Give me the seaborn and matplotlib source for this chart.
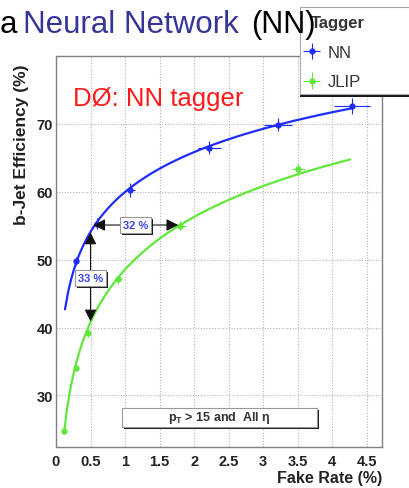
import numpy as np
import pandas as pd
import matplotlib
matplotlib.use("Agg")
import matplotlib.pyplot as plt
from matplotlib import patheffects
from matplotlib.patches import Rectangle
from matplotlib.ticker import MultipleLocator, FuncFormatter
import seaborn as sns

# b-tagging performance: efficiency vs light-jet fake rate
nn_rate = [0.29, 0.59, 1.07, 2.22, 3.21, 4.29]
nn_eff = [49.8, 55.3, 60.3, 66.5, 69.9, 72.6]
nn_rate_err = [0.02, 0.04, 0.07, 0.17, 0.20, 0.26]
nn_eff_err = [0.6, 0.8, 1.0, 1.0, 1.0, 1.2]

jlip_rate = [0.11, 0.29, 0.46, 0.90, 1.80, 3.51]
jlip_eff = [24.8, 34.1, 39.2, 47.1, 55.0, 63.3]
jlip_rate_err = [0.01, 0.02, 0.03, 0.05, 0.08, 0.10]
jlip_eff_err = [0.4, 0.5, 0.6, 0.7, 0.7, 0.8]

# fit ranges of the log curves
nn_fit_range = [0.13, 4.30]
jlip_fit_range = [0.115, 4.26]

# gain annotations: same efficiency (55 %) and same fake rate (0.5 %)
eff_gain_label = "32 %"
eff_gain_ends = [0.54, 1.77]
eff_gain_level = 55.1
rate_gain_label = "33 %"
rate_gain_ends = [54.0, 40.9]
rate_gain_level = 0.50

x_ticks = [0, 0.5, 1, 1.5, 2, 2.5, 3, 3.5, 4, 4.5]
y_ticks = [30, 40, 50, 60, 70]

NN_COLOR = "#1e2cff"
JLIP_COLOR = "#5fe83a"
FRAME = "#808080"
FONT = "Liberation Sans"

sns.set_theme(style="white")
plt.rcParams["font.family"] = [FONT, "DejaVu Sans"]

W, H = 410, 489
fig = plt.figure(figsize=(W / 100, H / 100), dpi=100)
ax = fig.add_axes([56 / W, 1 - 448 / H, (382 - 56) / W, (448 - 57) / H])

df_nn = pd.DataFrame({"rate": nn_rate, "eff": nn_eff})
df_jl = pd.DataFrame({"rate": jlip_rate, "eff": jlip_eff})

# fitted curves: efficiency linear in log(fake rate)
ax.set_xlim(*nn_fit_range)
sns.regplot(data=df_nn, x="rate", y="eff", logx=True, ci=None, scatter=False,
            truncate=False, ax=ax, line_kws=dict(color=NN_COLOR, lw=1.6))
ax.set_xlim(*jlip_fit_range)
sns.regplot(data=df_jl, x="rate", y="eff", logx=True, ci=None, scatter=False,
            truncate=False, ax=ax, line_kws=dict(color=JLIP_COLOR, lw=1.6))

# measured points with errors
h_nn = ax.errorbar(nn_rate, nn_eff, xerr=nn_rate_err, yerr=nn_eff_err, fmt="o",
                   ms=3.5, color=NN_COLOR, elinewidth=0.8, capsize=0, label="NN",
                   zorder=4)
h_jl = ax.errorbar(jlip_rate, jlip_eff, xerr=jlip_rate_err, yerr=jlip_eff_err,
                   fmt="o", ms=3.5, color=JLIP_COLOR, elinewidth=0.8, capsize=0,
                   label="JLIP", zorder=4)

ax.set_xlim(0, 4.72)
ax.set_ylim(22.4, 80)

# axes styling
for s in ax.spines.values():
    s.set_color(FRAME)
    s.set_linewidth(1.0)
ax.set_xticks(x_ticks)
ax.xaxis.set_minor_locator(MultipleLocator(0.1))
ax.set_yticks(y_ticks)
ax.yaxis.set_minor_locator(MultipleLocator(2))
ax.xaxis.set_major_formatter(FuncFormatter(lambda v, p: f"{v:g}"))
ax.tick_params(axis="both", which="both", direction="in", color=FRAME,
               labelcolor="#222222", top=False, right=False)
ax.tick_params(axis="both", which="major", length=8, width=1.0, labelsize=10.5)
ax.tick_params(axis="both", which="minor", length=4, width=0.8)
ax.tick_params(axis="x", which="major", pad=5)
ax.tick_params(axis="y", which="major", pad=2)
for lab in ax.get_xticklabels() + ax.get_yticklabels():
    lab.set_fontweight("bold")
ax.grid(True, which="major", color="#b5b5b5", linestyle=(0, (1, 1.5)), lw=0.8)
ax.set_axisbelow(True)

ax.set_xlabel("")
ax.set_ylabel("")
fig.text(382 / W, 1 - 479 / H, "Fake Rate (%)", ha="right", va="center",
         fontsize=11.5, fontweight="bold", color="#222222")
fig.text(22 / W, 1 - 145 / H, "b-Jet Efficiency (%)", rotation=90, ha="center",
         va="center", fontsize=12.5, fontweight="bold", color="#222222")

# gain arrows
arrow_kw = dict(arrowstyle="<|-|>,head_length=0.6,head_width=0.3",
                color="#111111", lw=0.8, shrinkA=0, shrinkB=0)
ax.annotate("", xy=(eff_gain_ends[0], eff_gain_level),
            xytext=(eff_gain_ends[1], eff_gain_level), arrowprops=arrow_kw,
            zorder=5)
ax.annotate("", xy=(rate_gain_level, rate_gain_ends[0]),
            xytext=(rate_gain_level, rate_gain_ends[1]), arrowprops=arrow_kw,
            zorder=5)

shadow = [patheffects.SimplePatchShadow(offset=(1.5, -1.5),
                                        shadow_rgbFace="black", alpha=0.9),
          patheffects.Normal()]
for label, pos in [(eff_gain_label, (1.155, 55.1)),
                   (rate_gain_label, (0.495, 47.3))]:
    t = ax.text(*pos, label, ha="center", va="center", fontsize=8,
                fontweight="bold", color="#3b45e0", zorder=6,
                bbox=dict(boxstyle="square,pad=0.25", fc="white", ec="#999999",
                          lw=0.8))
    t.get_bbox_patch().set_path_effects(shadow)

# selection box
sel = Rectangle((0.96, 25.3), 2.82, 2.8, fc="white", ec="#999999", lw=0.8,
                zorder=5)
sel.set_path_effects(shadow)
ax.add_patch(sel)
ax.text(2.37, 26.75, r"p$_\mathregular{T}$ > 15 and  All η", ha="center",
        va="center", fontsize=9, fontweight="bold", color="#333333", zorder=6)

# experiment label
fig.text(73 / W, 1 - 106 / H, "DØ: NN tagger", color="#ff1a1a", fontsize=18.5,
         va="baseline", ha="left")

# legend panel
leg_box = Rectangle((300 / W, 1 - 95 / H), 115 / W, 87 / H,
                    transform=fig.transFigure, fc="white", ec="#aaaaaa", lw=0.8,
                    zorder=5)
leg_box.set_path_effects([patheffects.SimplePatchShadow(offset=(0, -2),
                          shadow_rgbFace="black", alpha=0.9),
                          patheffects.Normal()])
fig.patches.append(leg_box)
leg = fig.legend(handles=[h_nn, h_jl], labels=["NN", "JLIP"], title="Tagger",
                 loc="upper left", bbox_to_anchor=(301 / W, 1 - 16 / H),
                 frameon=False, fontsize=12, title_fontsize=12,
                 alignment="left", handlelength=1.3, handletextpad=0.3,
                 labelspacing=0.88, borderpad=0, borderaxespad=0)
leg.set_zorder(6)
leg.get_title().set_fontweight("bold")
leg.get_title().set_color("#333333")
leg.get_title().set_position((10, 0))
for t in leg.get_texts():
    t.set_color("#333333")

# slide heading text
base = 1 - 33 / H
fig.text(0, base, "a", fontsize=22.5, va="baseline", color="black", zorder=10)
fig.text(23 / W, base, "Neural Network", fontsize=22.5, va="baseline",
         color="#353597", zorder=10)
fig.text(251 / W, base, "(NN)", fontsize=22, va="baseline", color="black",
         zorder=10)

fig.savefig("out.png", dpi=100)
